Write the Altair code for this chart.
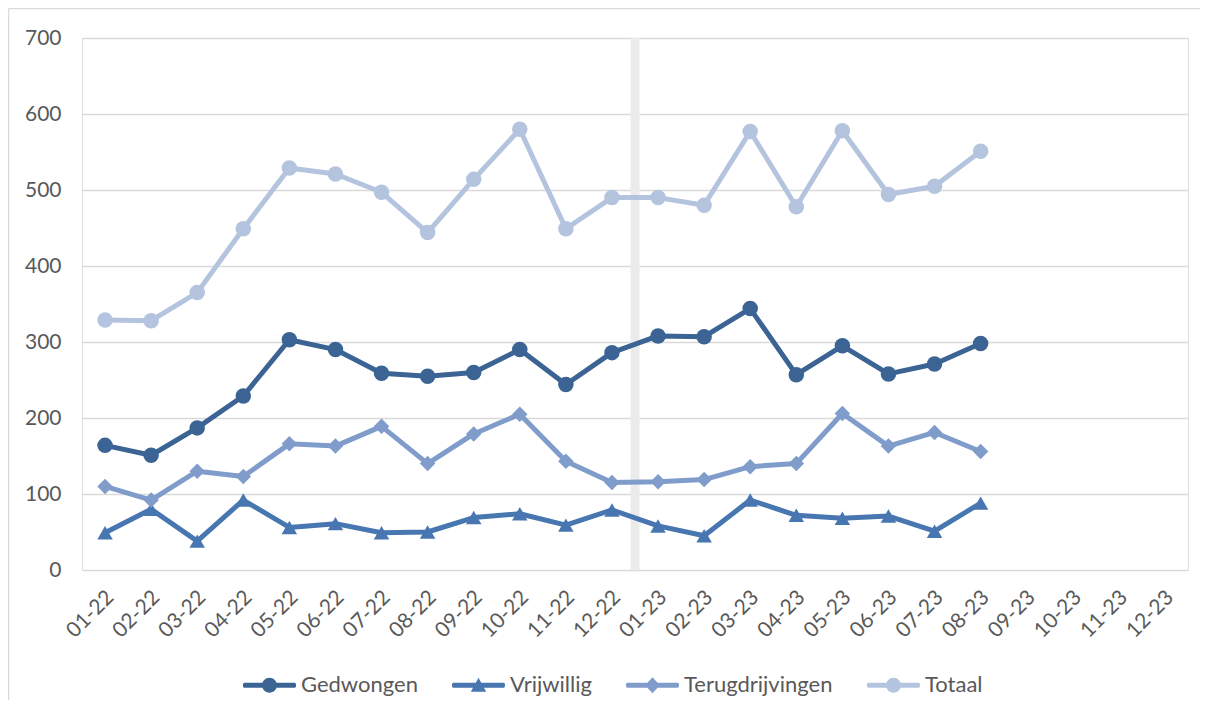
import altair as alt
import pandas as pd

months = ["01-22", "02-22", "03-22", "04-22", "05-22", "06-22", "07-22", "08-22",
          "09-22", "10-22", "11-22", "12-22", "01-23", "02-23", "03-23", "04-23",
          "05-23", "06-23", "07-23", "08-23", "09-23", "10-23", "11-23", "12-23"]

series_names = ["Gedwongen", "Vrijwillig", "Terugdrijvingen", "Totaal"]
series_colors = ["#3b6494", "#4876b0", "#7f9ccb", "#b4c4df"]
series_shapes = ["circle", "triangle-up", "diamond", "circle"]

gedwongen = [164, 151, 187, 229, 303, 290, 259, 255, 260, 290, 244, 286,
             308, 307, 344, 257, 295, 258, 271, 298]
vrijwillig = [49, 80, 38, 92, 56, 61, 49, 50, 69, 74, 59, 79,
              58, 45, 92, 72, 68, 71, 51, 88]
terugdrijvingen = [110, 92, 130, 123, 166, 163, 189, 140, 179, 205, 143, 115,
                   116, 119, 136, 140, 206, 163, 181, 156]
totaal = [329, 328, 365, 449, 529, 521, 497, 444, 514, 580, 449, 490,
          490, 480, 577, 478, 578, 494, 505, 551]

y_ticks = [0, 100, 200, 300, 400, 500, 600, 700]
year_break = ["01-23"]

rows = []
for name, vals in zip(series_names, [gedwongen, vrijwillig, terugdrijvingen, totaal]):
    for m, v in zip(months, vals):
        rows.append({"month": m, "value": v, "series": name})
df = pd.DataFrame(rows)

FONT = "Lato"
LABEL_COLOR = "#595959"
W, H = 1106, 532

x_scale = alt.Scale(type="point", domain=months, padding=0.5)
y_scale = alt.Scale(domain=[0, 700], nice=False)

x_enc = alt.X("month:O", scale=x_scale, sort=months,
              axis=alt.Axis(title=None, labelAngle=-45, labelAlign="right",
                            labelBaseline="middle", labelPadding=24, labelOffset=5,
                            ticks=False, domain=False, grid=False, labelFont=FONT,
                            labelFontSize=21, labelColor=LABEL_COLOR,
                            labelOverlap=False, labelBound=False))
y_enc = alt.Y("value:Q", scale=y_scale,
              axis=alt.Axis(title=None, values=y_ticks, ticks=False, domain=False,
                            grid=True, gridColor="#d9d9d9", gridWidth=1.5,
                            labelFont=FONT, labelFontSize=21,
                            labelColor=LABEL_COLOR, labelPadding=21))

color_scale = alt.Scale(domain=series_names, range=series_colors)

# legend glyphs: line segment with the marker, in unit coordinates
def line_path():
    return ("M-0.92,-0.09 L0.92,-0.09 C0.98,-0.09 0.98,0.09 0.92,0.09 "
            "L-0.92,0.09 C-0.98,0.09 -0.98,-0.09 -0.92,-0.09 Z")

r = 0.27
k = 0.5523 * r
circle_p = (f"M{r},0 C{r},{k} {k},{r} 0,{r} C{-k},{r} {-r},{k} {-r},0 "
            f"C{-r},{-k} {-k},{-r} 0,{-r} C{k},{-r} {r},{-k} {r},0 Z")
tri_p = "M0,-0.27 L0.28,0.24 L-0.28,0.24 Z"
dia_p = "M0,-0.29 L0.27,0 L0,0.29 L-0.27,0 Z"
legend_paths = [line_path() + " " + circle_p, line_path() + " " + tri_p,
                line_path() + " " + dia_p, line_path() + " " + circle_p]

legend_def = alt.Legend(title=None, orient="none", direction="horizontal",
                        legendX=160, legendY=619.5, symbolSize=3025,
                        symbolStrokeWidth=0, labelFont=FONT, labelFontSize=22,
                        labelColor=LABEL_COLOR, labelOffset=4, columnPadding=33,
                        padding=0, symbolType="circle")

frame_df = pd.DataFrame({"a": [0]})
frame_top = alt.Chart(frame_df).mark_rule(color="#d9d9d9", strokeWidth=1.5).encode(
    x=alt.value(-73.5), x2=alt.value(W + 12), y=alt.value(-29.5))
frame_left = alt.Chart(frame_df).mark_rule(color="#d9d9d9", strokeWidth=1.5).encode(
    x=alt.value(-73.5), y=alt.value(-29.5), y2=alt.value(H + 130))

band = alt.Chart(pd.DataFrame({"month": year_break})).mark_rule(
    color="#ebebeb", strokeWidth=9, xOffset=-23
).encode(x=x_enc)

lines = alt.Chart(df).mark_line(strokeWidth=5, strokeCap="round", strokeJoin="round").encode(
    x=x_enc, y=y_enc,
    color=alt.Color("series:N", scale=color_scale, legend=None),
    detail="series:N",
)

points = alt.Chart(df).mark_point(filled=True, opacity=1, size=240).encode(
    x=x_enc, y=y_enc,
    color=alt.Color("series:N", scale=color_scale, legend=None),
    shape=alt.Shape("series:N", scale=alt.Scale(domain=series_names, range=series_shapes),
                    legend=None),
)

legend_layer = alt.Chart(df).mark_point(filled=True, opacity=1).encode(
    x=x_enc, y=y_enc,
    color=alt.Color("series:N", scale=color_scale, legend=legend_def),
    shape=alt.Shape("series:N", scale=alt.Scale(domain=series_names, range=legend_paths),
                    legend=legend_def),
).transform_filter("datum.value < 0")

chart = alt.layer(frame_top, frame_left, band, lines, points, legend_layer).resolve_scale(
    color="independent", shape="independent"
).properties(
    width=W, height=H,
    autosize=alt.AutoSizeParams(type="none"),
    padding={"left": 74, "top": 30, "right": 12, "bottom": 130},
).configure_view(stroke=None).configure(background="white")

chart.save("out.html", embed_options={"renderer": "svg", "actions": False})
